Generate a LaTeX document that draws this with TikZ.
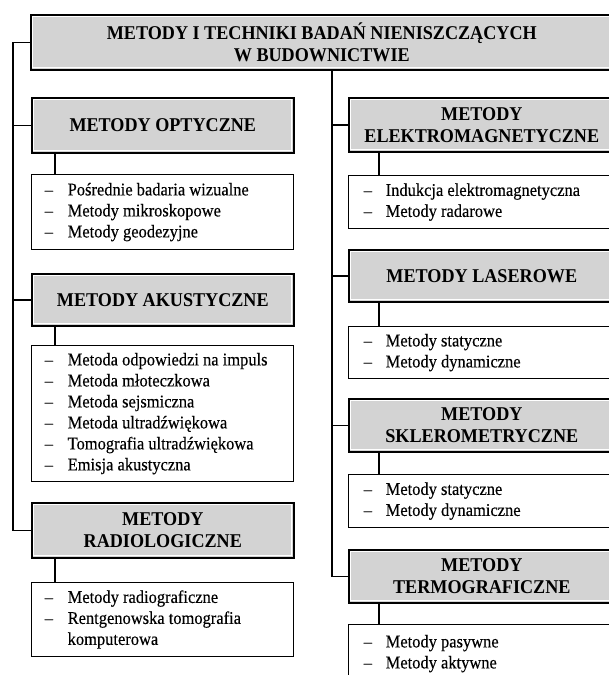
\documentclass[tikz,border=0pt]{standalone}
\usepackage{fontspec}
\setmainfont{Liberation Serif}
\newfontfamily\hdfont[FakeStretch=0.93]{Liberation Serif}
\newfontfamily\itfont[FakeStretch=0.92,FakeBold=0.3]{Liberation Serif}
\definecolor{hdgray}{RGB}{211,211,211}
\begin{document}
\begin{tikzpicture}[x=1pt,y=-1pt,
  hd/.style={draw=black, line width=1.6pt, fill=hdgray, align=center, inner sep=0pt,
    anchor=north west, font=\hdfont\bfseries\fontsize{19.5}{22}\selectfont,
    path picture={\draw[white, line width=0.9pt]
      ([shift={(2pt,-2pt)}]path picture bounding box.north west) rectangle
      ([shift={(-2pt,2pt)}]path picture bounding box.south east);}},
  lst/.style={draw=black, line width=1.4pt, fill=white, inner ysep=0pt,
    anchor=north west, font=\itfont\fontsize{17.9}{21}\selectfont},
  conn/.style={line width=1.6pt},
  lw/.style={minimum width=262pt},
  rw/.style={minimum width=266pt}
]
\useasboundingbox (0,0) rectangle (609,675);

% top
\node[hd, minimum width=582pt, minimum height=55pt] (top) at (30,14)
  {METODY I TECHNIKI BADAŃ NIENISZCZĄCYCH\\W BUDOWNICTWIE};

% left column
\node[hd, lw, minimum height=55pt] (opt) at (31,97) {METODY OPTYCZNE};
\node[lst, lw, minimum height=75pt, inner xsep=13pt] (optL) at (31,174)
  {\begin{tabular}{@{}p{23pt}@{}p{213pt}@{}}
   – & Pośrednie badaria wizualne\\
   – & Metody mikroskopowe\\
   – & Metody geodezyjne
   \end{tabular}};
\node[hd, lw, minimum height=52pt] (aku) at (31,273) {METODY AKUSTYCZNE};
\node[lst, lw, minimum height=136pt, inner xsep=13pt] (akuL) at (31,345)
  {\begin{tabular}{@{}p{23pt}@{}p{213pt}@{}}
   – & Metoda odpowiedzi na impuls\\
   – & Metoda młoteczkowa\\
   – & Metoda sejsmiczna\\
   – & Metoda ultradźwiękowa\\
   – & Tomografia ultradźwiękowa\\
   – & Emisja akustyczna
   \end{tabular}};
\node[hd, lw, minimum height=55pt] (rad) at (31,502) {METODY\\RADIOLOGICZNE};
\node[lst, lw, minimum height=74pt, inner xsep=13pt] (radL) at (31,582)
  {\begin{tabular}{@{}p{23pt}@{}p{213pt}@{}}
   – & Metody radiograficzne\\
   – & Rentgenowska tomografia\\
     & komputerowa
   \end{tabular}};

% right column
\node[hd, rw, minimum height=54pt] (ele) at (348,97) {METODY\\ELEKTROMAGNETYCZNE};
\node[lst, rw, minimum height=53pt, inner xsep=15pt] (eleL) at (348,175)
  {\begin{tabular}{@{}p{22pt}@{}p{214pt}@{}}
   – & Indukcja elektromagnetyczna\\
   – & Metody radarowe
   \end{tabular}};
\node[hd, rw, minimum height=52pt] (las) at (348,249) {METODY LASEROWE};
\node[lst, rw, minimum height=52pt, inner xsep=15pt] (lasL) at (348,326)
  {\begin{tabular}{@{}p{22pt}@{}p{214pt}@{}}
   – & Metody statyczne\\
   – & Metody dynamiczne
   \end{tabular}};
\node[hd, rw, minimum height=53pt] (skl) at (348,398) {METODY\\SKLEROMETRYCZNE};
\node[lst, rw, minimum height=53pt, inner xsep=15pt] (sklL) at (348,474)
  {\begin{tabular}{@{}p{22pt}@{}p{214pt}@{}}
   – & Metody statyczne\\
   – & Metody dynamiczne
   \end{tabular}};
\node[hd, rw, minimum height=53pt] (ter) at (348,549) {METODY\\TERMOGRAFICZNE};
\node[lst, rw, minimum height=58pt, inner xsep=15pt] (terL) at (348,624)
  {\begin{tabular}{@{}p{22pt}@{}p{214pt}@{}}
   – & Metody pasywne\\
   – & Metody aktywne
   \end{tabular}};

% trunks
\coordinate (lt) at (13,0);
\coordinate (rt) at (332,0);
\coordinate (ls) at (55,0);
\coordinate (rs) at (379,0);

\draw[conn] (top.west) -- (top.west -| lt) -- (rad.west -| lt) -- (rad.west);
\draw[conn] (opt.west -| lt) -- (opt.west);
\draw[conn] (aku.west -| lt) -- (aku.west);

\draw[conn] (top.south -| rt) -- (ter.west -| rt) -- (ter.west);
\draw[conn] (ele.west -| rt) -- (ele.west);
\draw[conn] (las.west -| rt) -- (las.west);
\draw[conn] (skl.west -| rt) -- (skl.west);

% stubs
\draw[conn] (opt.south -| ls) -- (optL.north -| ls);
\draw[conn] (aku.south -| ls) -- (akuL.north -| ls);
\draw[conn] (rad.south -| ls) -- (radL.north -| ls);
\draw[conn] (ele.south -| rs) -- (eleL.north -| rs);
\draw[conn] (las.south -| rs) -- (lasL.north -| rs);
\draw[conn] (skl.south -| rs) -- (sklL.north -| rs);
\draw[conn] (ter.south -| rs) -- (terL.north -| rs);
\end{tikzpicture}
\end{document}
